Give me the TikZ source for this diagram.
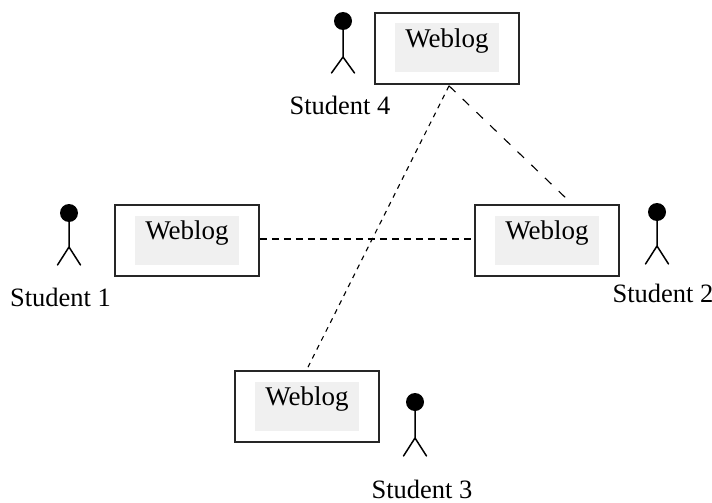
\documentclass[tikz,border=0pt]{standalone}
\usepackage{fontspec}
\setmainfont{Liberation Serif}
\usetikzlibrary{calc}
\definecolor{padgrey}{HTML}{F0F0F0}
\tikzset{
  weblogbox/.style={draw=black!85,line width=1.7pt,minimum width=144pt,minimum height=71pt,inner sep=0pt,fill=white},
  weblogpad/.style={fill=padgrey,minimum width=104pt,minimum height=49pt,inner sep=0pt},
  weblogtext/.style={font=\fontsize{27}{29}\selectfont,inner sep=0pt,anchor=center},
  studentlabel/.style={font=\fontsize{26.5}{28}\selectfont,inner sep=0pt,anchor=center},
  head/.style={circle,fill=black,minimum size=18pt,inner sep=0pt},
  figline/.style={line width=1.5pt,line cap=round},
  linka/.style={line width=1.1pt,dash pattern=on 7pt off 5pt},
  linkb/.style={line width=1.1pt,dash pattern=on 5pt off 5pt},
  linkc/.style={line width=1.1pt,dash pattern=on 9pt off 10pt}
}
\newcommand{\stickfig}[5]{% name, x, head y, hip y, foot y
  \node[head] (#1) at (#2,#3) {};
  \coordinate (#1hip) at (#2,#4);
  \coordinate (#1l) at (#2-11.5,#5);
  \coordinate (#1r) at (#2+11.5,#5);
  \draw[figline] (#1.center) -- (#1hip) (#1l) -- (#1hip) -- (#1r);
}
\newcommand{\weblog}[3]{% name, x, y
  \node[weblogbox] (#1) at (#2,#3) {};
  \node[weblogpad] (#1pad) at (#2,#3-0.5) {};
  \node[weblogtext] (#1txt) at (#2,#3-7) {Weblog};
}
\begin{document}
\begin{tikzpicture}[x=1pt,y=-1pt]
\useasboundingbox (0,0) rectangle (712,503);
\fill[white] (0,0) rectangle (712,503);
\weblog{wa}{187}{240.5}
\weblog{wb}{547}{240.5}
\weblog{wc}{307}{406.5}
\weblog{wd}{447}{48.5}
\stickfig{sa}{69}{213}{247}{265}
\stickfig{sb}{657}{212}{246}{264}
\stickfig{sc}{415}{402}{438}{456}
\stickfig{sd}{343}{21}{57}{73}
\node[studentlabel] (la) at (60.5,297) {Student 1};
\node[studentlabel] (lb) at (663,293) {Student 2};
\node[studentlabel] (lc) at (422,489.5) {Student 3};
\node[studentlabel] (ld) at (340,105) {Student 4};
\draw[linka] (wa.east) ++(0,-1.5) -- ($(wb.west)+(0,-1.5)$);
\draw[linkb] ($(wd.south)+(2,1)$) -- ($(wc.north)+(1,-3)$);
\draw[linkc] ($(wd.south)+(2,1)$) -- ($(wb.north)+(19,-6)$);
\end{tikzpicture}
\end{document}
